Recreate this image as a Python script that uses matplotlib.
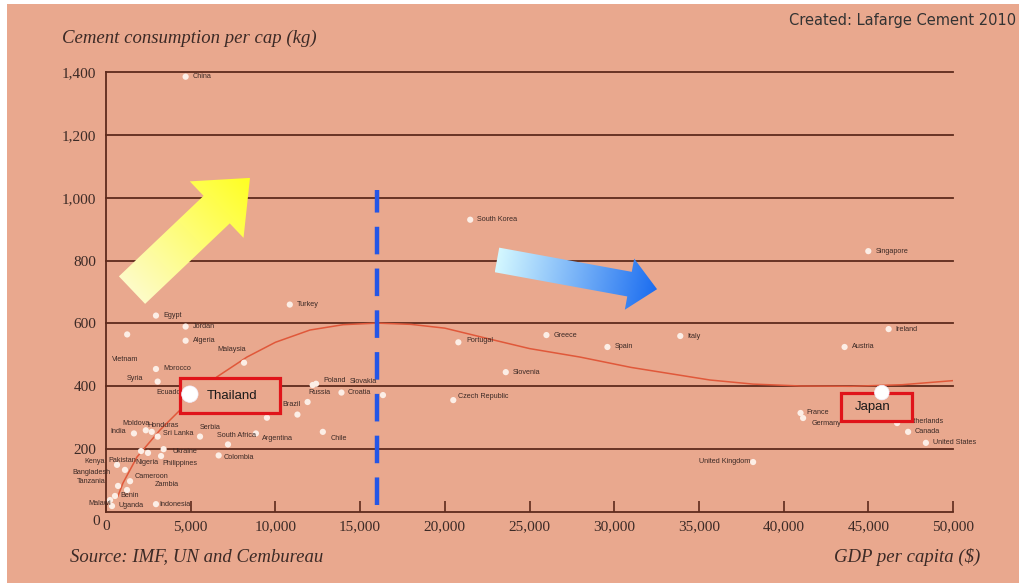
import numpy as np
import matplotlib
matplotlib.use("Agg")
import matplotlib.pyplot as plt
from matplotlib.patches import Polygon, Rectangle

# cement use per head vs GDP per head, by country
countries = ["China", "South Korea", "Singapore", "Turkey", "Egypt", "Jordan", "Algeria",
             "Malaysia", "Vietnam", "Morocco", "Syria", "Ecuador", "Poland", "Russia",
             "Croatia", "Slovakia", "Brazil", "", "", "Chile", "Argentina", "South Africa",
             "Serbia", "Colombia", "Moldova", "Honduras", "Sri Lanka", "India", "Ukraine",
             "Philippines", "Nigeria", "Pakistan", "Kenya", "Bangladesh", "Cameroon",
             "Tanzania", "Zambia", "Benin", "Uganda", "Malawi", "Indonesia", "Portugal",
             "Greece", "Spain", "Italy", "Slovenia", "Czech Republic", "Ireland", "Austria",
             "France", "Germany", "Netherlands", "Canada", "United States", "United Kingdom"]
gdp = [4700, 21500, 45000, 10850, 2950, 4700, 4700,
       8150, 1250, 2950, 3050, 4650, 12400, 12200,
       13900, 16350, 11900, 11300, 9500, 12800, 8850, 7200,
       5550, 6650, 2350, 2700, 3050, 1650, 3400,
       3250, 2480, 2070, 650, 1120, 1420,
       710, 1240, 530, 355, 240, 2950, 20800,
       26000, 29600, 33900, 23600, 20500, 46200, 43600,
       41000, 41150, 46700, 47350, 48400, 38200]
cement = [1385, 930, 830, 660, 625, 590, 545,
          475, 565, 455, 415, 390, 408, 404,
          380, 372, 350, 310, 300, 255, 250, 215,
          240, 180, 260, 255, 240, 250, 200,
          178, 188, 194, 150, 134, 98,
          83, 70, 51, 19, 38, 25, 540,
          563, 525, 560, 445, 356, 582, 525,
          315, 299, 283, 255, 220, 159]

# highlighted countries
focus_names = ["Thailand", "Japan"]
focus_gdp = [4950, 45800]
focus_cement = [375, 380]

# trend curve read along its length
trend_gdp = [700, 1000, 1830, 3190, 4960, 6550, 8320, 10000, 12040, 14000, 16000,
             18000, 20000, 22670, 25000, 27980, 31000, 35650, 38190, 41000, 44000,
             47000, 50000]
trend_cement = [50, 92, 175, 261, 356, 430, 493, 540, 579, 596, 601,
                597, 585, 550, 520, 493, 460, 420, 407, 401, 400,
                405, 418]

turning_point = 16000
x_ticks = [0, 5000, 10000, 15000, 20000, 25000, 30000, 35000, 40000, 45000, 50000]
y_ticks = [200, 400, 600, 800, 1000, 1200, 1400]

# label offsets in pixels (dx right, dy down); default is just right of the dot
label_offsets = {
    "Malaysia": (-27, -13), "Vietnam": (-15, 25), "Syria": (-31, -3), "Ecuador": (-28, 3),
    "Russia": (-4, 7), "Poland": (7, -3), "Croatia": (6, 0), "Slovakia": (-33, -14),
    "Brazil": (-25, 2), "Chile": (8, 7), "Argentina": (6, 5), "South Africa": (-11, -9),
    "Serbia": (0, -9), "Colombia": (5, 2), "Moldova": (-23, -7), "Honduras": (-4, -6),
    "Sri Lanka": (5, -3), "India": (-24, -2), "Ukraine": (9, 2), "Philippines": (1, 7),
    "Nigeria": (-13, 10), "Pakistan": (-33, 9), "Kenya": (-33, -3), "Bangladesh": (-53, 3),
    "Cameroon": (5, -5), "Tanzania": (-41, -4), "Zambia": (28, -5), "Benin": (5, 0),
    "Uganda": (6, -1), "Malawi": (-22, 3), "Indonesia": (3, 0), "Czech Republic": (5, -4),
    "Germany": (9, 5), "France": (6, -1), "Portugal": (8, -2), "Netherlands": (7, -2),
}
label_right = {"United Kingdom": (-3, -1)}

BG = "#E9A88E"
GRID = "#5E2A1C"
TXT = "#3C2A26"
PX = 72 / 100  # points per pixel at dpi 100

fig = plt.figure(figsize=(10.19, 5.83), dpi=100, facecolor="white")
fig.patches.append(Rectangle((7 / 1019, 0), 1, 579 / 583, transform=fig.transFigure,
                             facecolor=BG, edgecolor="none", zorder=-10))
ax = fig.add_axes([106 / 1019, 71 / 583, 847 / 1019, 440 / 583])
ax.patch.set_visible(False)
ax.set_xlim(0, 50000)
ax.set_ylim(0, 1400)
ax.set_autoscale_on(False)

for s in ["top", "right"]:
    ax.spines[s].set_visible(False)
for s in ["left", "bottom"]:
    ax.spines[s].set_color(GRID)
    ax.spines[s].set_linewidth(1.3)

for y in y_ticks:
    ax.axhline(y, color=GRID, lw=1.3, zorder=1, clip_on=False)

ax.set_xticks(x_ticks)
ax.set_xticklabels([f"{v:,}" for v in x_ticks])
ax.set_yticks(y_ticks)
ax.set_yticklabels([f"{v:,}" for v in y_ticks])
ax.tick_params(axis="x", direction="in", length=8, width=1.2, color=GRID, pad=6,
               labelsize=11, labelcolor=TXT)
ax.tick_params(axis="y", length=0, pad=7, labelsize=11, labelcolor=TXT)
for lab in ax.get_xticklabels() + ax.get_yticklabels():
    lab.set_fontfamily(["Liberation Serif", "DejaVu Serif"])
ax.annotate("0", xy=(0, 0), xytext=(-4, -7), textcoords="offset points", ha="right",
            va="center", fontsize=11, color=TXT, family=["Liberation Serif", "DejaVu Serif"],
            annotation_clip=False)


def gradient_arrow(ax, tail, tip, body_w, head_w, head_len, c0, c1, z):
    T = ax.transData
    p0 = T.transform(tail)
    p1 = T.transform(tip)
    d = p1 - p0
    L = np.hypot(*d)
    u = d / L
    n = np.array([-u[1], u[0]])
    hb = p1 - u * head_len
    pts = np.array([p0 + n * body_w / 2, hb + n * body_w / 2, hb + n * head_w / 2, p1,
                    hb - n * head_w / 2, hb - n * body_w / 2, p0 - n * body_w / 2])
    pd = T.inverted().transform(pts)
    poly = Polygon(pd, closed=True, facecolor="none", edgecolor="none")
    ax.add_patch(poly)
    (x0, y0), (x1, y1) = pd.min(0), pd.max(0)
    gx, gy = np.meshgrid(np.linspace(x0, x1, 200), np.linspace(y0, y1, 200))
    disp = T.transform(np.column_stack([gx.ravel(), gy.ravel()]))
    t = np.clip(((disp - p0) @ u) / L, 0, 1).reshape(gx.shape)
    c0 = np.array(matplotlib.colors.to_rgb(c0))
    c1 = np.array(matplotlib.colors.to_rgb(c1))
    rgb = (1 - t)[..., None] * c0 + t[..., None] * c1
    im = ax.imshow(rgb, extent=(x0, x1, y0, y1), origin="lower", aspect="auto",
                   interpolation="bilinear", zorder=z)
    im.set_clip_path(poly)


gradient_arrow(ax, (1535, 706), (8500, 1063), 38, 78, 46, "#FDFBC8", "#FFFF22", 2)
gradient_arrow(ax, (23080, 802), (32530, 709), 25, 52, 28, "#D4F8FF", "#1A6CF0", 2)

# trend and turning point
ax.plot(trend_gdp, trend_cement, color="#E0583A", lw=1.1, zorder=3)
ax.plot([turning_point, turning_point], [22, 1025], color="#2456E6", lw=3.2,
        dashes=(6.2, 3.2), zorder=3)

# country dots and labels
ax.scatter(gdp, cement, s=20, color="#FCEEE6", edgecolor="none", zorder=4)
for name, x, y in zip(countries, gdp, cement):
    if not name:
        continue
    if name in label_right:
        dx, dy = label_right[name]
        ha = "right"
    else:
        dx, dy = label_offsets.get(name, (7, 0))
        ha = "left"
    ax.annotate(name, (x, y), xytext=(dx * PX, -dy * PX), textcoords="offset points",
                ha=ha, va="center", fontsize=5.2, color=TXT,
                family=["Liberation Sans Narrow", "Liberation Sans"], zorder=5)

# boxes around the highlighted countries
boxes = {"Thailand": ((4368, 315), 5904, 111), "Japan": ((43390, 290), 4190, 89)}
for name, x, y in zip(focus_names, focus_gdp, focus_cement):
    (bx, by), bw, bh = boxes[name]
    ax.add_patch(Rectangle((bx, by), bw, bh, facecolor=BG, edgecolor="#E0141A",
                           lw=2.3, zorder=6))
    ax.text(bx + bw * (0.52 if name == "Thailand" else 0.45), by + bh / 2, name,
            ha="center", va="center", fontsize=9.5, color="#1A1A1A",
            family=["Liberation Sans", "DejaVu Sans"], zorder=7)
ax.scatter(focus_gdp, focus_cement, s=[140, 110], color="#FFFFFF", edgecolor="#F0F0FF",
           lw=0.5, zorder=8)

serif_it = dict(family=["Liberation Serif", "DejaVu Serif"], style="italic", color=TXT)
fig.text(62 / 1019, 1 - 38 / 583, "Cement consumption per cap (kg)", ha="left",
         va="center", fontsize=13.5, **serif_it)
fig.text(70 / 1019, 1 - 557 / 583, "Source: IMF, UN and Cembureau", ha="left",
         va="center", fontsize=13.5, **serif_it)
fig.text(980 / 1019, 1 - 557 / 583, "GDP per capita ($)", ha="right",
         va="center", fontsize=13.5, **serif_it)
fig.text(1016 / 1019, 1 - 20 / 583, "Created: Lafarge Cement 2010", ha="right",
         va="center", fontsize=10.5, color="#333333", family="DejaVu Sans")

fig.savefig("out.png", dpi=100, facecolor=fig.get_facecolor())
